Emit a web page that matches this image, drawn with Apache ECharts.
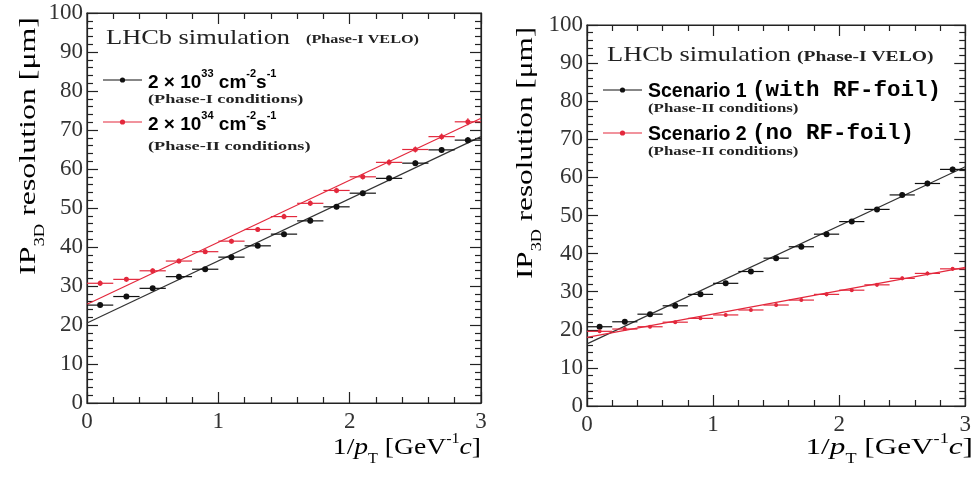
<!DOCTYPE html>
<html>
<head>
<meta charset="utf-8">
<script src="https://cdn.jsdelivr.net/npm/echarts@6/dist/echarts.min.js"></script>
<style>html,body{margin:0;padding:0;background:#fff;}#c{width:974px;height:482px;}</style>
</head>
<body>
<div id="c"></div>
<script>
// ---- data ----
const xBins = [0.1, 0.3, 0.5, 0.7, 0.9, 1.1, 1.3, 1.5, 1.7, 1.9, 2.1, 2.3, 2.5, 2.7, 2.9];
const binHalfWidth = 0.1;
// Left panel (Phase-I VELO)
const leftPhase1 = [25.1, 27.3, 29.4, 32.4, 34.3, 37.4, 40.3, 43.3, 46.7, 50.3, 53.8, 57.6, 61.5, 64.9, 67.4];
const leftPhase1Err = [0.6, 0.5, 0.5, 0.5, 0.5, 0.5, 0.5, 0.6, 0.6, 0.6, 0.6, 0.7, 0.7, 0.7, 0.8];
const leftPhase2 = [30.7, 31.7, 33.9, 36.4, 38.8, 41.5, 44.5, 47.8, 51.2, 54.5, 58.0, 61.7, 65.0, 68.3, 72.1];
const leftPhase2Err = [0.7, 0.6, 0.6, 0.6, 0.6, 0.6, 0.6, 0.7, 0.7, 0.7, 0.7, 0.8, 0.8, 0.8, 0.9];
const leftFit1 = [[0, 20.5], [3, 68.3]];
const leftFit2 = [[0, 25.3], [3, 73.0]];
// Right panel (Phase-II conditions)
const rightScen1 = [20.8, 22.1, 24.1, 26.3, 29.3, 32.2, 35.3, 38.8, 41.8, 45.1, 48.4, 51.6, 55.4, 58.4, 62.1];
const rightScen1Err = [0.5, 0.5, 0.5, 0.5, 0.5, 0.5, 0.5, 0.5, 0.6, 0.6, 0.6, 0.6, 0.7, 0.7, 0.7];
const rightScen2 = [19.6, 20.2, 20.8, 22.0, 23.0, 23.9, 25.2, 26.5, 27.8, 29.3, 30.4, 31.8, 33.5, 34.8, 36.0];
const rightScen2Err = [0.4, 0.4, 0.4, 0.4, 0.4, 0.4, 0.4, 0.4, 0.4, 0.5, 0.5, 0.5, 0.5, 0.5, 0.5];
const rightFit1 = [[0, 16.3], [3, 62.8]];
const rightFit2 = [[0, 18.0], [3, 36.4]];
const xTicks = [0, 1, 2, 3];
const yTicks = [0, 10, 20, 30, 40, 50, 60, 70, 80, 90, 100];

// ---- style ----
const SERIF = 'Liberation Serif';
const SANS = 'Liberation Sans';
const MONO = 'Liberation Mono';
const BLACK = '#111111';
const RED = '#e3283c';

function xAxisPair(grid) {
  const common = {
    type: 'value', gridIndex: grid, min: xTicks[0], max: xTicks[xTicks.length - 1], interval: 1,
    axisLine: { show: true, onZero: false, lineStyle: { color: '#222', width: 1.2 } },
    axisTick: { show: true, inside: true, length: 11, lineStyle: { color: '#222', width: 1.2 } },
    minorTick: { show: true, splitNumber: 5, length: 6, lineStyle: { color: '#222', width: 1.2 } },
    splitLine: { show: false }
  };
  return [
    Object.assign({}, common, { position: 'bottom',
      axisLabel: { show: true, margin: 7, fontFamily: SERIF, fontSize: 23, color: '#333',
        formatter: v => String(v) } }),
    Object.assign({}, common, { position: 'top', axisLabel: { show: false } })
  ];
}
function yAxisPair(grid) {
  const common = {
    type: 'value', gridIndex: grid, min: yTicks[0], max: yTicks[yTicks.length - 1], interval: 10,
    axisLine: { show: true, onZero: false, lineStyle: { color: '#222', width: 1.2 } },
    axisTick: { show: true, inside: true, length: 11, lineStyle: { color: '#222', width: 1.2 } },
    minorTick: { show: true, splitNumber: 5, length: 6, lineStyle: { color: '#222', width: 1.2 } },
    splitLine: { show: false }
  };
  return [
    Object.assign({}, common, { position: 'left',
      axisLabel: { show: true, margin: 4, fontFamily: SERIF, fontSize: 23, color: '#333' } }),
    Object.assign({}, common, { position: 'right', axisLabel: { show: false } })
  ];
}

function errorBars(xIdx, yIdx, vals, errs, color, z) {
  return {
    type: 'custom', xAxisIndex: xIdx, yAxisIndex: yIdx, z: z, silent: true,
    data: xBins.map((x, i) => [x, vals[i], binHalfWidth, errs[i]]),
    renderItem: function (params, api) {
      const x = api.value(0), y = api.value(1), ex = api.value(2), ey = api.value(3);
      const l = api.coord([x - ex, y]), r = api.coord([x + ex, y]);
      const t = api.coord([x, y + ey]), b = api.coord([x, y - ey]);
      return { type: 'group', children: [
        { type: 'line', shape: { x1: l[0], y1: l[1], x2: r[0], y2: r[1] }, style: { stroke: color, lineWidth: 1.2 } },
        { type: 'line', shape: { x1: t[0], y1: t[1], x2: b[0], y2: b[1] }, style: { stroke: color, lineWidth: 1.2 } }
      ] };
    }
  };
}
function markers(xIdx, yIdx, vals, color, size, z) {
  return { type: 'scatter', xAxisIndex: xIdx, yAxisIndex: yIdx, z: z, silent: true,
    symbol: 'circle', symbolSize: size, itemStyle: { color: color, opacity: 1 },
    data: xBins.map((x, i) => [x, vals[i]]) };
}
function fitLine(xIdx, yIdx, pts, color, z) {
  return { type: 'line', xAxisIndex: xIdx, yAxisIndex: yIdx, z: z, silent: true,
    showSymbol: false, symbol: 'none', data: pts,
    lineStyle: { color: color, width: 1.2 } };
}

function legRich(bs, ms) {
  return {
    b: { fontFamily: SANS, fontWeight: 'bold', fontSize: bs, color: '#111', lineHeight: 24, verticalAlign: 'bottom' },
    sup: { fontFamily: SANS, fontWeight: 'bold', fontSize: Math.round(bs * 0.58), color: '#111', verticalAlign: 'top', lineHeight: 24 },
    m: { fontFamily: MONO, fontWeight: 'bold', fontSize: ms, color: '#111', lineHeight: 24, verticalAlign: 'bottom' }
  };
}
const titleRich = {
  n: { fontFamily: SERIF, fontSize: 24, color: '#222', lineHeight: 28, verticalAlign: 'bottom' },
  i: { fontFamily: SERIF, fontStyle: 'italic', fontSize: 24, color: '#222', lineHeight: 28, verticalAlign: 'bottom' },
  sub: { fontFamily: SERIF, fontSize: 14, color: '#222', lineHeight: 28, verticalAlign: 'bottom', padding: [0, 0, -6, 0] },
  sup: { fontFamily: SERIF, fontSize: 14, color: '#222', lineHeight: 28, verticalAlign: 'top' }
};

function txt(x, y, text, font, sx) {
  return { type: 'text', x: x, y: y, z: 100, silent: true, scaleX: sx || 1,
    style: { text: text, font: font, fill: '#222', textAlign: 'left', textVerticalAlign: 'middle' } };
}
function richTxt(x, y, text, rich, align, rotation, sx) {
  return { type: 'text', x: x, y: y, z: 100, silent: true, rotation: rotation || 0, scaleX: sx || 1,
    style: { text: text, rich: rich, textAlign: align || 'left', textVerticalAlign: 'middle' } };
}
function legLine(x1, x2, y, color) {
  return [
    { type: 'line', z: 100, silent: true, shape: { x1: x1, y1: y, x2: x2, y2: y }, style: { stroke: color, lineWidth: 1.2 } },
    { type: 'circle', z: 101, silent: true, shape: { cx: (x1 + x2) / 2, cy: y, r: 2.6 }, style: { fill: color } }
  ];
}

const xTitle = '{n|1/}{i|p}{sub|T}{n| [GeV}{sup|-1}{i|c}{n|]}';
const yTitle = '{n|IP}{sub|3D}{n| resolution [μm]}';

const option = {
  animation: false,
  backgroundColor: '#ffffff',
  grid: [
    { left: 87, top: 13, width: 394, height: 390, show: true, borderColor: '#222', borderWidth: 1.2, backgroundColor: 'transparent' },
    { left: 587, top: 25, width: 385, height: 381, show: true, borderColor: '#222', borderWidth: 1.2, backgroundColor: 'transparent' }
  ],
  xAxis: [].concat(xAxisPair(0), xAxisPair(1)),
  yAxis: [].concat(yAxisPair(0), yAxisPair(1)),
  series: [
    fitLine(0, 0, leftFit1, '#333', 2),
    fitLine(0, 0, leftFit2, RED, 2),
    errorBars(0, 0, leftPhase1, leftPhase1Err, BLACK, 3),
    errorBars(0, 0, leftPhase2, leftPhase2Err, RED, 3),
    markers(0, 0, leftPhase1, BLACK, 6, 4),
    markers(0, 0, leftPhase2, RED, 5, 4),
    fitLine(2, 2, rightFit1, '#333', 2),
    fitLine(2, 2, rightFit2, RED, 2),
    errorBars(2, 2, rightScen1, rightScen1Err, BLACK, 3),
    errorBars(2, 2, rightScen2, rightScen2Err, RED, 3),
    markers(2, 2, rightScen1, BLACK, 6, 4),
    markers(2, 2, rightScen2, RED, 4, 4)
  ],
  graphic: [].concat(
    [
      // left panel texts
      txt(106, 38, 'LHCb simulation', '22px "' + SERIF + '"', 1.2),
      txt(306, 40, '(Phase-I VELO)', 'bold 12px "' + SERIF + '"', 1.35),
      richTxt(148, 80, '{b|2 × 10}{sup|33}{b| cm}{sup|-2}{b|s}{sup|-1}', legRich(19, 22)),
      txt(148, 100, '(Phase-I conditions)', 'bold 13.5px "' + SERIF + '"', 1.35),
      richTxt(148, 122, '{b|2 × 10}{sup|34}{b| cm}{sup|-2}{b|s}{sup|-1}', legRich(19, 22)),
      txt(148, 147, '(Phase-II conditions)', 'bold 13.5px "' + SERIF + '"', 1.35),
      // right panel texts
      txt(607, 55, 'LHCb simulation', '22px "' + SERIF + '"', 1.2),
      txt(797, 57, '(Phase-I VELO)', 'bold 14.5px "' + SERIF + '"', 1.35),
      richTxt(648, 90, '{b|Scenario 1 }{m|(with RF-foil)}', legRich(19.5, 22.5)),
      txt(648, 109, '(Phase-II conditions)', 'bold 12.5px "' + SERIF + '"', 1.35),
      richTxt(648, 133, '{b|Scenario 2 }{m|(no RF-foil)}', legRich(19.5, 22.5)),
      txt(648, 152, '(Phase-II conditions)', 'bold 12.5px "' + SERIF + '"', 1.35),
      // axis titles
      richTxt(481, 446, xTitle, titleRich, 'right', 0, 1.15),
      richTxt(973, 446, xTitle, titleRich, 'right', 0, 1.3),
      richTxt(27, 146, yTitle, titleRich, 'center', Math.PI / 2, 1.33),
      richTxt(524, 153, yTitle, titleRich, 'center', Math.PI / 2, 1.3)
    ],
    legLine(103, 142, 80, BLACK),
    legLine(103, 142, 122, RED),
    legLine(603, 642, 90, BLACK),
    legLine(603, 642, 133, RED)
  )
};

const chart = echarts.init(document.getElementById('c'), null, { renderer: 'canvas' });
chart.setOption(option);
</script>
</body>
</html>
